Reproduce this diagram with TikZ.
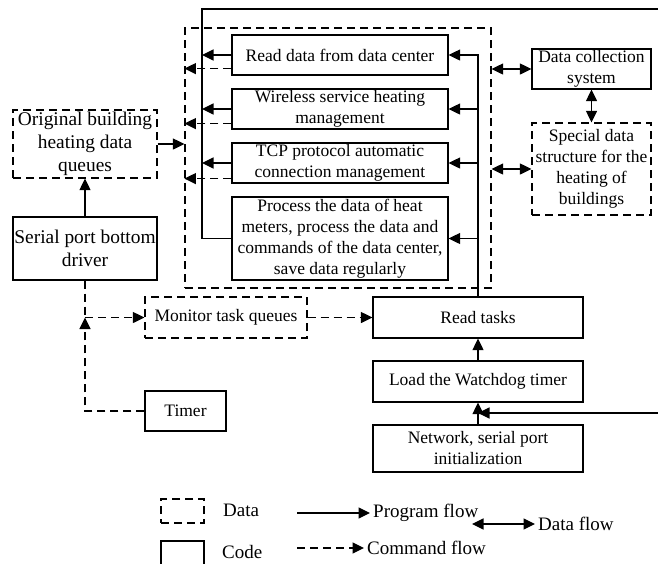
\documentclass[tikz,border=0pt]{standalone}
\usepackage{fontspec}
\setmainfont{Liberation Serif}
\usetikzlibrary{arrows.meta,calc}
\begin{document}
\begin{tikzpicture}[x=1pt,y=-1pt,
  every node/.style={font=\fontsize{17.5}{21}\selectfont, align=center, inner sep=1pt},
  bigtext/.style={font=\fontsize{19.4}{23}\selectfont},
  legtext/.style={font=\fontsize{19}{23}\selectfont, inner sep=3pt, anchor=west},
  codebox/.style={draw, rectangle, line width=1.2pt},
  databox/.style={draw, rectangle, line width=1.2pt, dash pattern=on 8pt off 5pt},
  plain/.style={line width=1.2pt},
  prog/.style={line width=1.2pt, -{Triangle[length=11.5pt,width=11pt]}},
  cmd/.style={line width=1.2pt, dash pattern=on 8pt off 5pt},
  cmdarr/.style={line width=1.2pt, dash pattern=on 8pt off 5pt, -{Triangle[length=11.5pt,width=11pt]}},
  dflow/.style={line width=1.2pt, {Triangle[length=11.5pt,width=11pt]}-{Triangle[length=11.5pt,width=11pt]}}
]
\useasboundingbox (0,0) rectangle (658,563);

% group of tasks
\node[databox, minimum width=306pt, minimum height=260pt] (grp) at (338,158) {};
\node[codebox, minimum width=216pt, minimum height=40pt] (b1) at (340,55) {Read data from data center};
\node[codebox, minimum width=216pt, minimum height=40pt] (b2) at (340,109) {Wireless service heating\\management};
\node[codebox, minimum width=216pt, minimum height=40pt] (b3) at (340,163) {TCP protocol automatic\\connection management};
\node[codebox, minimum width=216pt, minimum height=83pt] (b4) at (340,238.5) {Process the data of heat\\meters, process the data and\\commands of the data center,\\save data regularly};

% right data nodes
\node[codebox, minimum width=119pt, minimum height=40pt] (dc) at (591.5,69) {Data collection\\system};
\node[databox, minimum width=119pt, minimum height=92pt] (sp) at (591.5,169) {Special data\\structure for the\\heating of\\buildings};

% left nodes
\node[databox, bigtext, minimum width=144pt, minimum height=68pt] (orig) at (85,144) {Original building\\heating data\\queues};
\node[codebox, bigtext, minimum width=144pt, minimum height=63pt] (ser) at (85,248.5) {Serial port bottom\\driver};

% lower nodes
\node[databox, minimum width=162pt, minimum height=41pt] (mon) at (226,317.5) {Monitor task queues};
\node[codebox, minimum width=81pt, minimum height=40pt] (tim) at (185.5,411) {Timer};
\node[codebox, minimum width=210pt, minimum height=41pt] (read) at (478,317.5) {Read tasks};
\node[codebox, minimum width=210pt, minimum height=41pt] (load) at (478,381.5) {Load the Watchdog timer};
\node[codebox, minimum width=210pt, minimum height=47pt] (net) at (478,448.5) {Network, serial port\\initialization};

% top loop line
\coordinate (tr) at (658,9);
\coordinate (tl) at (202,9);
\draw[plain] (tr) -- (tl) |- (b4.west);
\draw[prog] (b1.west) -- (b1.west -| tl);
\draw[prog] (b2.west) -- (b2.west -| tl);
\draw[prog] (b3.west) -- (b3.west -| tl);

% dashed outputs to the group border
\coordinate (d1) at ([yshift=7pt]b1.south west);
\coordinate (d2) at ([yshift=6pt]b2.south west);
\coordinate (d3) at ([yshift=5pt]b3.south west);
\draw[cmdarr] (d1) -- (d1 -| grp.west);
\draw[cmdarr] (d2) -- (d2 -| grp.west);
\draw[cmdarr] (d3) -- (d3 -| grp.west);

% right distribution line
\draw[prog] (read.north) |- (b1.east);
\draw[prog] (b2.east -| read.north) -- (b2.east);
\draw[prog] (b3.east -| read.north) -- (b3.east);
\draw[prog] (b4.east -| read.north) -- (b4.east);

% data flows
\draw[dflow] (dc.west -| grp.east) -- (dc.west);
\draw[dflow] (sp.west -| grp.east) -- (sp.west);
\draw[dflow] (dc.south) -- (sp.north);

% left flows
\draw[prog] (orig.east) -- (orig.east -| grp.west);
\draw[prog] (ser.north) -- (orig.south);

% command flows
\coordinate (j) at (ser.south |- mon.west);
\draw[cmd] (ser.south) -- (j);
\draw[cmdarr] (tim.west) -| (j);
\draw[cmdarr] (j) -- (mon.west);
\draw[cmdarr] (mon.east) -- (read.west);

% program flow bottom
\draw[prog] (load.north) -- (read.south);
\draw[prog] (net.north) -- (load.south);
\coordinate (re) at (658,413);
\draw[prog] (re) -- (re -| net.north);

% legend
\node[databox, minimum width=43pt, minimum height=24pt] (lgd) at (182.5,511) {};
\node[codebox, minimum width=43pt, minimum height=26pt] (lgc) at (182.5,554) {};
\node[legtext] (tdata) at (220,510) {Data};
\node[legtext] (tcode) at (219,552) {Code};
\node[legtext] (tpf) at (370,513) {Program flow};
\coordinate (lpf) at (297,513);
\draw[prog] (lpf) -- (tpf.west);
\node[legtext] (tdf) at (535,524) {Data flow};
\coordinate (ldf) at (472,524);
\draw[dflow] (ldf) -- (tdf.west);
\node[legtext] (tcf) at (364,548) {Command flow};
\coordinate (lcf) at (297,548);
\draw[cmdarr] (lcf) -- (tcf.west);
\end{tikzpicture}
\end{document}
